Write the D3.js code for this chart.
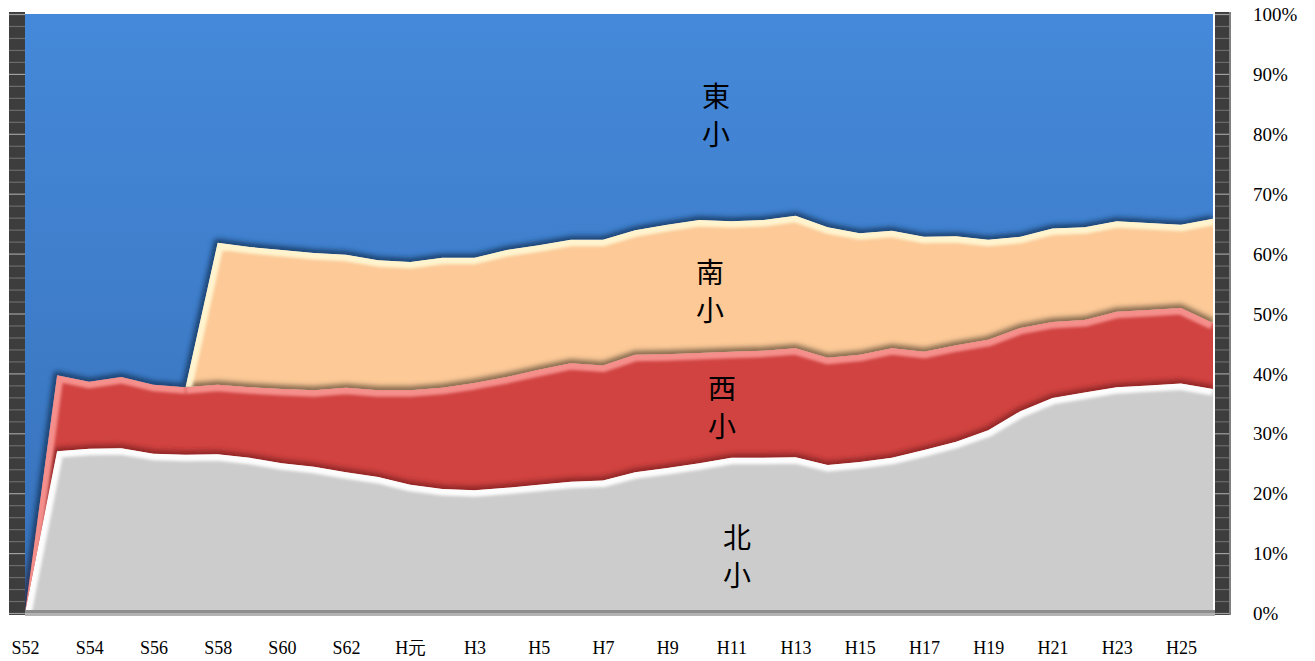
<!DOCTYPE html>
<html><head><meta charset="utf-8">
<script src="https://cdn.jsdelivr.net/npm/d3@7/dist/d3.min.js"></script>
<style>
html,body{margin:0;padding:0;background:#fff;}
svg{display:block;}
.axis text{font-family:"Liberation Serif","DejaVu Serif",serif;fill:#000;}
.lbl{font-family:"Noto Sans CJK JP","Noto Sans CJK SC",sans-serif;font-size:28px;fill:#000;}
</style></head><body>
<svg id="chart" width="1315" height="661"></svg>
<script>
// ---------------- data ----------------
const categories = ["S52","S53","S54","S55","S56","S57","S58","S59","S60","S61","S62","S63",
  "H元","H2","H3","H4","H5","H6","H7","H8","H9","H10","H11","H12","H13","H14","H15","H16",
  "H17","H18","H19","H20","H21","H22","H23","H24","H25","H26"];
// shares in percent (bottom to top: 北小, 西小, 南小, 東小)
const north = [0,27.0,27.4,27.5,26.6,26.4,26.5,25.9,25.0,24.4,23.5,22.7,21.4,20.7,20.5,20.9,21.4,21.9,22.1,
  23.5,24.2,25.0,25.9,25.9,26.0,24.7,25.2,25.9,27.2,28.6,30.5,33.7,35.9,36.8,37.7,38.0,38.3,37.4];
const west = [0,12.7,11.2,11.9,11.5,11.3,11.6,11.8,12.4,12.8,14.1,14.5,15.8,16.9,17.9,18.5,19.2,19.8,19.2,
  19.6,19.0,18.4,17.7,17.9,18.2,17.9,17.9,18.3,16.4,16.1,15.1,13.9,12.7,12.1,12.6,12.6,12.6,11.0];
const south = [0,0,0,0,0,0,23.7,23.4,23.2,22.9,22.2,21.7,21.4,21.7,20.9,21.2,20.8,20.6,21.0,
  20.8,21.6,22.2,21.8,21.8,22.1,21.8,20.3,19.6,19.2,18.2,16.7,15.2,15.6,15.5,15.1,14.5,13.9,17.4];
const east = [100,60.3,61.4,60.6,61.9,62.3,38.2,38.9,39.4,39.9,40.2,41.1,41.4,40.7,40.7,39.4,38.6,37.7,37.7,
  36.1,35.2,34.4,34.6,34.4,33.7,35.6,36.6,36.2,37.2,37.1,37.7,37.2,35.8,35.6,34.6,34.9,35.2,34.2];
const seriesKeys = ["北小","西小","南小","東小"];
const yTicks = [0,0.1,0.2,0.3,0.4,0.5,0.6,0.7,0.8,0.9,1.0];
const xTickLabels = categories.filter((d,i)=>i%2===0);

// ---------------- styling / layout ----------------
const fills  = {"北小":"#cccccc","西小":"#d04341","南小":"#fcc997","東小":"url(#blueGrad)"};
const lights = {"北小":"#ffffff","西小":"#f8938f","南小":"#fff7d2","東小":"#70acf2"};
const shades = {"西小":"#8a2422","南小":"#7a6146","東小":"#1b3d6a"};
const labelPos = {"東小":[716,95],"南小":[710,271],"西小":[722,387],"北小":[737,536]};
const plot = {left:25,right:1213,edge:1215,top:14,bottom:613};

const svg = d3.select("#chart");
const defs = svg.append("defs");
const bg = defs.append("linearGradient").attr("id","blueGrad")
  .attr("gradientUnits","userSpaceOnUse").attr("x1",0).attr("x2",0).attr("y1",plot.top).attr("y2",plot.bottom);
bg.append("stop").attr("offset",0).attr("stop-color","#4589da");
bg.append("stop").attr("offset",1).attr("stop-color","#3871b9");
defs.append("filter").attr("id","blur1").attr("x","-5%").attr("y","-50%").attr("width","110%").attr("height","200%")
  .append("feGaussianBlur").attr("stdDeviation",1.8);
defs.append("filter").attr("id","blur2").attr("x","-5%").attr("y","-50%").attr("width","110%").attr("height","200%")
  .append("feGaussianBlur").attr("stdDeviation",2.4);
defs.append("clipPath").attr("id","plotClip").append("rect")
  .attr("x",plot.left).attr("y",plot.top).attr("width",plot.edge-plot.left).attr("height",plot.bottom-plot.top);

const x = d3.scalePoint().domain(categories).range([plot.left, plot.right]);
const y = d3.scaleLinear().domain([0,1]).range([plot.bottom, plot.top]);

const rows = categories.map((c,i)=>({cat:c,"北小":north[i],"西小":west[i],"南小":south[i],"東小":east[i]}));
const stacked = d3.stack().keys(seriesKeys).offset(d3.stackOffsetExpand)(rows);

// ---- walls ----
function wall(x0,w){
  const g = svg.append("g");
  g.append("rect").attr("x",x0).attr("y",12).attr("width",w).attr("height",603).attr("fill","#3d3d3d");
  const minor = d3.range(0,1.0001,0.02);
  g.selectAll("line").data(minor).join("line")
    .attr("x1",x0).attr("x2",x0+w).attr("y1",d=>y(d)+0.5).attr("y2",d=>y(d)+0.5)
    .attr("stroke",d=>Math.abs(d*10-Math.round(d*10))<1e-6?"#a0a0a0":"#6c6c6c").attr("stroke-width",1.2);
  return g;
}
wall(9,16);
const rw = wall(1215,15);
rw.append("rect").attr("x",1229).attr("y",12).attr("width",2).attr("height",603).attr("fill","#808080");

// ---- areas ----
const area = d3.area().x(d=>x(d.data.cat)).y0(d=>y(d[0])).y1(d=>y(d[1]));
const areaAbove = d3.area().x(d=>x(d.data.cat)).y0(d=>y(d[1])).y1(()=>y(1)-20);
const plotG = svg.append("g").attr("clip-path","url(#plotClip)");
plotG.selectAll("path.area").data(stacked).join("path").attr("class","area")
  .attr("d",area).attr("fill",d=>fills[d.key]);

stacked.forEach((s,k)=>{
  defs.append("clipPath").attr("id","own"+k).append("path").attr("d",area(s));
  defs.append("clipPath").attr("id","above"+k).append("path").attr("d",areaAbove(s));
});

const thick = (k,i)=> stacked[k][i][1]-stacked[k][i][0] > 1e-9;
const line = d3.line().x(d=>x(d.data.cat)).y(d=>y(d[1]));

stacked.forEach((s,k)=>{
  const runs = []; let cur = null;
  for(let i=0;i<s.length-1;i++){
    if(!(thick(k,i)||thick(k,i+1))){ cur=null; continue; }
    let up = null;
    for(let j=k+1;j<stacked.length;j++){ if(thick(j,i)||thick(j,i+1)){ up=stacked[j].key; break; } }
    if(!cur || cur.up!==up){ cur={up:up,pts:[s[i]]}; runs.push(cur); }
    cur.pts.push(s[i+1]);
  }
  runs.forEach(r=>{
    if(r.up){
      plotG.append("g").attr("clip-path",`url(#above${k})`)
        .append("path").attr("d",line(r.pts)).attr("fill","none")
        .attr("stroke",shades[r.up]).attr("stroke-width",8).attr("stroke-opacity",0.9)
        .attr("stroke-linejoin","round").attr("filter","url(#blur2)");
    }
    plotG.append("g").attr("clip-path",`url(#own${k})`)
      .append("path").attr("d",line(r.pts)).attr("fill","none")
      .attr("stroke",lights[s.key]).attr("stroke-width",13).attr("stroke-opacity",0.95)
      .attr("stroke-linejoin","round").attr("filter","url(#blur1)");
  });
});

// ---- floor ----
svg.append("rect").attr("x",plot.left).attr("y",610).attr("width",plot.edge-plot.left).attr("height",3).attr("fill","#8e8e8e");
svg.append("rect").attr("x",plot.left).attr("y",613).attr("width",plot.edge-plot.left).attr("height",3).attr("fill","#b3b3b3");

// ---- axes ----
const yAxis = d3.axisRight(y).tickValues(yTicks).tickFormat(d3.format(".0%")).tickSize(0).tickPadding(0);
const ya = svg.append("g").attr("class","axis").attr("transform","translate(1253,0)").call(yAxis);
ya.select(".domain").remove();
ya.selectAll("text").attr("font-size",19).attr("text-anchor","start").attr("dy","0.35em");

const xAxis = d3.axisBottom(x).tickValues(xTickLabels).tickSize(0).tickPadding(0);
const xa = svg.append("g").attr("class","axis").attr("transform","translate(0,648)").call(xAxis);
xa.select(".domain").remove();
xa.selectAll("text").attr("font-size",18).attr("dy","0.35em");

// ---- series labels ----
seriesKeys.forEach(key=>{
  const [lx,ly] = labelPos[key];
  Array.from(key).forEach((ch,j)=>{
    svg.append("text").attr("class","lbl").attr("x",lx).attr("y",ly+j*38)
      .attr("text-anchor","middle").attr("dominant-baseline","central").text(ch);
  });
});
</script>
</body></html>
